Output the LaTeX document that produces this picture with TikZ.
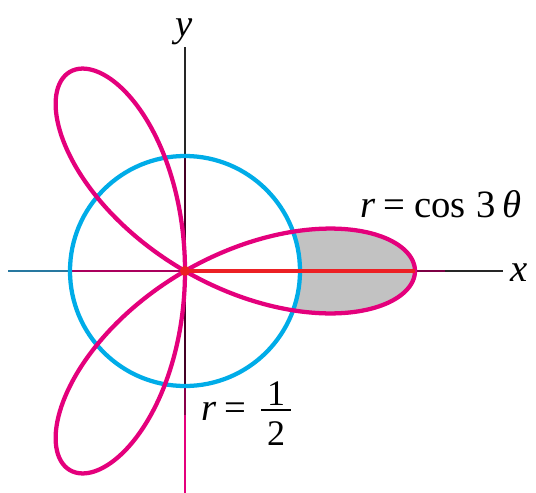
\documentclass[tikz,border=0pt]{standalone}
\usepackage{fontspec}
\setmainfont{Liberation Serif}
\definecolor{rosec}{RGB}{228,0,124}
\definecolor{circc}{RGB}{0,172,232}
\definecolor{redl}{RGB}{236,32,36}
\definecolor{shadec}{RGB}{194,194,194}
\definecolor{axblue}{RGB}{40,120,160}
\tikzset{
  axisline/.style={line width=1.8pt},
  curve/.style={line width=3.2pt},
  lab/.style={inner sep=0pt, anchor=base west, font=\fontsize{29}{32}\selectfont},
}
\begin{document}
\begin{tikzpicture}[x=0.75pt,y=-0.75pt]
\useasboundingbox (0,0) rectangle (536,493);
\coordinate (O) at (185,271);
\coordinate (xl) at (8,271);
\coordinate (xc) at (70,271);
\coordinate (xt) at (415,271);
\coordinate (xm) at (445,271);
\coordinate (xr) at (503,271);
\coordinate (yt) at (185,47);
\coordinate (yc) at (185,157);
\coordinate (yd) at (185,385);
\coordinate (ye) at (185,415);
\coordinate (yb) at (185,493);
% shaded region
\fill[shadec] plot[domain=-20:20,samples=81,smooth] ({185+230*cos(3*\x)*cos(\x)},{271-230*cos(3*\x)*sin(\x)})
  -- plot[domain=20:-20,samples=41,smooth] ({185+115*cos(\x)},{271-115*sin(\x)}) -- cycle;
% axes
\draw[axisline,axblue] (xl) -- (xc);
\draw[axisline,rosec!75!black] (xc) -- (O);
\draw[axisline,rosec!55!black] (xt) -- (xm);
\draw[axisline,black!85] (xm) -- (xr);
\draw[axisline,black!85] (yt) -- (yc);
\draw[axisline,black!70!rosec] (yc) -- (O);
\draw[axisline,black!70!rosec] (O) -- (yd);
\draw[axisline,rosec!60!black] (yd) -- (ye);
\draw[axisline,rosec] (ye) -- (yb);
% circle r = 1/2
\draw[curve,circc] (O) circle[radius=115];
% rose r = cos 3theta
\draw[curve,rosec] plot[domain=0:180,samples=541,smooth] ({185+230*cos(3*\x)*cos(\x)},{271-230*cos(3*\x)*sin(\x)}) -- cycle;
% red segment
\draw[line width=2.4pt,redl] (O) -- (xt);
\fill[redl] (O) circle[radius=5];
% labels
\node[lab,anchor=base] (ylab) at (184,36) {\itshape y};
\node[lab,anchor=base] (xlab) at (519,281) {\itshape x};
\node[lab] (roselab) at (360,217) {\itshape r\hspace{6pt}\upshape =\hspace{7pt}cos\hspace{8pt}3\hspace{5pt}\itshape θ};
\node[lab] (circlab) at (201,420) {\itshape r\hspace{6pt}\upshape =};
\node[lab,anchor=base,font=\fontsize{27}{30}\selectfont] (num) at (276,405) {1};
\node[lab,anchor=base,font=\fontsize{27}{30}\selectfont] (den) at (276,445) {2};
\draw[line width=1.3pt] (261,410) -- (291,410);
\end{tikzpicture}
\end{document}
